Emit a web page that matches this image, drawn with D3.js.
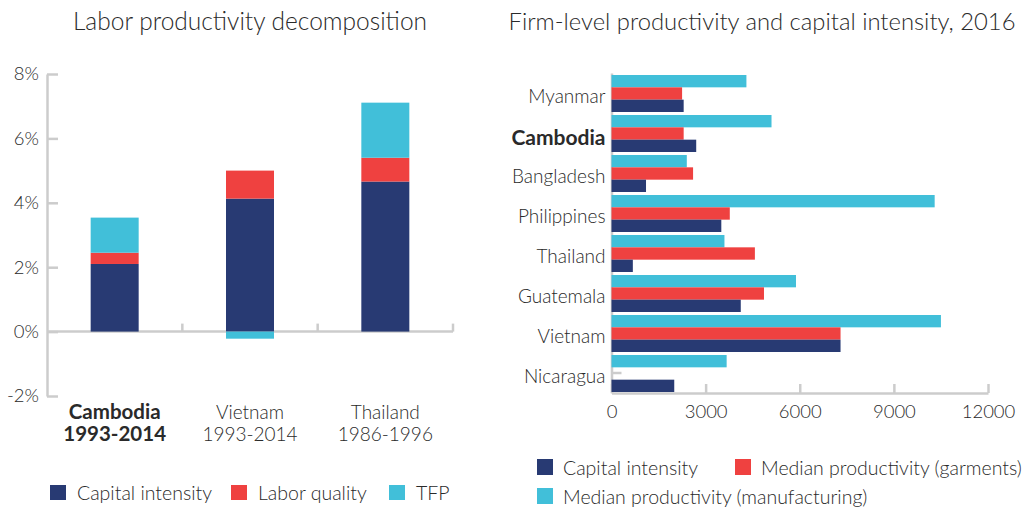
<!DOCTYPE html>
<html><head><meta charset="utf-8">
<script src="https://cdn.jsdelivr.net/npm/d3@7"></script>
<style>
body{margin:0;background:#fff;}
svg text{font-family:Lato,"Open Sans",sans-serif;font-weight:300;fill:#2a2a2a;}
</style></head>
<body><svg id="c" width="1032" height="507"></svg>
<script>
// ---- Left chart data ----
const decompCountries = ["Cambodia","Vietnam","Thailand"];
const decompPeriods = ["1993-2014","1993-2014","1986-1996"];
const capitalIntensity = [2.1, 4.13, 4.66];
const laborQuality = [0.35, 0.87, 0.74];
const tfp = [1.09, -0.22, 1.71];
const decompTicks = [-2, 0, 2, 4, 6, 8];
const decompLegend = ["Capital intensity","Labor quality","TFP"];

// ---- Right chart data ----
const firmCountries = ["Myanmar","Cambodia","Bangladesh","Philippines","Thailand","Guatemala","Vietnam","Nicaragua"];
const capitalIntensityFirm = [2300, 2700, 1100, 3500, 680, 4120, 7300, 2000];
const medianGarments = [2250, 2300, 2600, 3770, 4570, 4860, 7300, null];
const medianManufacturing = [4300, 5100, 2400, 10300, 3600, 5880, 10500, 3670];
const firmTicks = [0, 3000, 6000, 9000, 12000];
const firmLegend = ["Capital intensity","Median productivity (garments)","Median productivity (manufacturing)"];

const NAVY = "#283A73", RED = "#EF4140", CYAN = "#41BFD9", AXIS = "#cccccc";
const svg = d3.select("#c");

// ================= LEFT =================
const L = svg.append("g");
L.append("text").attr("x", 250).attr("y", 30).attr("text-anchor","middle")
  .style("font-size","24.5px").text("Labor productivity decomposition");

const y = d3.scaleLinear().domain([-2, 8]).range([396, 74]);
const x = d3.scaleBand().domain(decompCountries).range([47, 453]);

const rows = decompCountries.map((c,i)=>({c, cap:capitalIntensity[i], lab:laborQuality[i], tfp:tfp[i]}));
const stack = d3.stack().keys(["cap","lab","tfp"]).offset(d3.stackOffsetDiverging)(rows);
const colors = [NAVY, RED, CYAN];

// y axis
const yAx = L.append("g").attr("transform","translate(47,0)")
  .call(d3.axisLeft(y).tickValues(decompTicks).tickFormat(d=>d+"%").tickSize(-11).tickSizeOuter(0).tickPadding(8));
yAx.select(".domain").attr("stroke",AXIS).attr("stroke-width",2.5);
yAx.selectAll(".tick line").attr("stroke",AXIS).attr("stroke-width",2.5);
yAx.selectAll(".tick text").style("font-size","18.5px").attr("fill","#2a2a2a");

// x axis at 0
const xAx = L.append("g").attr("transform",`translate(0,${y(0)})`);
xAx.append("line").attr("x1",47).attr("x2",x.range()[1]).attr("stroke",AXIS).attr("stroke-width",2.5);
xAx.selectAll("line.t").data(decompCountries).join("line").attr("class","t")
  .attr("x1",d=>x(d)+x.bandwidth()).attr("x2",d=>x(d)+x.bandwidth())
  .attr("y1",0).attr("y2",-8).attr("stroke",AXIS).attr("stroke-width",2.5);

// bars
const bw = 48;
L.selectAll("g.s").data(stack).join("g").attr("class","s").attr("fill",(d,i)=>colors[i])
  .selectAll("rect").data(d=>d).join("rect")
  .attr("x",d=>x(d.data.c)+x.bandwidth()/2-bw/2).attr("width",bw)
  .attr("y",d=>y(Math.max(d[0],d[1]))).attr("height",d=>Math.abs(y(d[0])-y(d[1])));

// category labels
decompCountries.forEach((c,i)=>{
  const t = L.append("text").attr("x",x(c)+x.bandwidth()/2).attr("text-anchor","middle").style("font-size","19px");
  if(i===0) t.style("font-weight","700").style("font-size","20.5px").attr("fill","#111");
  t.append("tspan").attr("x",x(c)+x.bandwidth()/2).attr("y",419).text(c);
  t.append("tspan").attr("x",x(c)+x.bandwidth()/2).attr("y",441).text(decompPeriods[i]);
});

// legend
const legX = [50, 231, 389];
decompLegend.forEach((t,i)=>{
  L.append("rect").attr("x",legX[i]).attr("y",485).attr("width",16).attr("height",15).attr("fill",colors[i]);
  L.append("text").attr("x",legX[i]+27).attr("y",500).style("font-size","19.5px").text(t);
});

// ================= RIGHT =================
const R = svg.append("g");
R.append("text").attr("x",762).attr("y",30).attr("text-anchor","middle")
  .style("font-size","23.8px").text("Firm-level productivity and capital intensity, 2016");

const fx = d3.scaleLinear().domain([0,12000]).range([611.5, 988]);
const fy = d3.scaleBand().domain(firmCountries).range([73, 393]);
const series = [
  {key:"man", vals:medianManufacturing, color:CYAN},
  {key:"gar", vals:medianGarments, color:RED},
  {key:"cap", vals:capitalIntensityFirm, color:NAVY}
];
const inner = d3.scaleBand().domain(series.map(s=>s.key)).range([2, fy.bandwidth()-1]);

const fxAx = R.append("g").attr("transform","translate(0,393)")
  .call(d3.axisBottom(fx).tickValues(firmTicks).tickFormat(d3.format("d")).tickSize(-9).tickSizeOuter(0).tickPadding(12));
fxAx.select(".domain").attr("stroke",AXIS).attr("stroke-width",2.5);
fxAx.selectAll(".tick line").attr("stroke",AXIS).attr("stroke-width",2.5);
fxAx.selectAll(".tick text").style("font-size","18.5px").attr("fill","#2a2a2a");

const fyAx = R.append("g").attr("transform","translate(611.5,0)")
  .call(d3.axisLeft(fy).tickSize(-10).tickSizeOuter(0).tickPadding(6));
fyAx.select(".domain").attr("stroke",AXIS).attr("stroke-width",2.5);
fyAx.selectAll(".tick line").attr("stroke",AXIS).attr("stroke-width",2.5);
fyAx.selectAll(".tick text")
  .attr("dy","0.55em")
  .style("font-size",d=>d==="Cambodia"?"21px":"19px")
  .style("font-weight",d=>d==="Cambodia"?"700":"300").attr("fill",d=>d==="Cambodia"?"#111":"#2a2a2a");

series.forEach(s=>{
  R.append("g").attr("fill",s.color).selectAll("rect")
    .data(firmCountries.map((c,i)=>({c, v:s.vals[i]})).filter(d=>d.v!=null))
    .join("rect")
    .attr("x",fx(0)).attr("y",d=>fy(d.c)+inner(s.key))
    .attr("width",d=>fx(d.v)-fx(0)).attr("height",inner.bandwidth());
});

// legend
const rl = [{x:537,y:459,c:NAVY},{x:735,y:459,c:RED},{x:537,y:488,c:CYAN}];
firmLegend.forEach((t,i)=>{
  R.append("rect").attr("x",rl[i].x).attr("y",rl[i].y).attr("width",16).attr("height",16).attr("fill",rl[i].c);
  R.append("text").attr("x",rl[i].x+26).attr("y",rl[i].y+16).style("font-size","19.5px").text(t);
});
</script></body></html>
